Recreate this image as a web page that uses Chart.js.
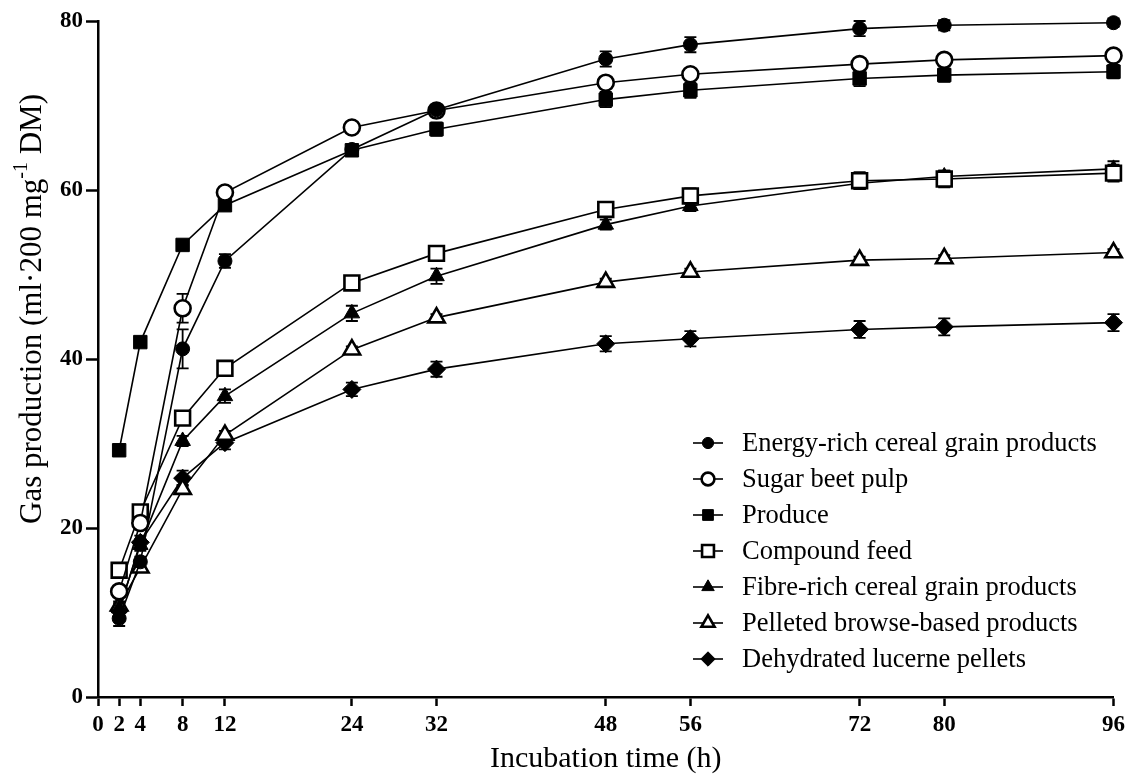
<!DOCTYPE html>
<html>
<head>
<meta charset="utf-8">
<script src="https://cdn.jsdelivr.net/npm/chart.js@4.4.4/dist/chart.umd.min.js"></script>
<style>
  html, body { margin: 0; padding: 0; background: #fff; }
  #wrap { width: 1130px; height: 783px; }
</style>
</head>
<body>
<div id="wrap"><canvas id="chart" width="1130" height="783"></canvas></div>
<script>
// incubation times (h) and tick marks on the x axis
const times = [2, 4, 8, 12, 24, 32, 48, 56, 72, 80, 96];
const xTicks = [0, 2, 4, 8, 12, 24, 32, 48, 56, 72, 80, 96];
const yTicks = [0, 20, 40, 60, 80];

// gas production, ml per 200 mg DM
const energyRich = [9.3, 16.0, 41.2, 51.6, 64.8, 69.5, 75.5, 77.2, 79.1, 79.5, 79.8];
const sugarBeet  = [12.5, 20.6, 46.0, 59.7, 67.4, 69.4, 72.7, 73.7, 74.9, 75.4, 75.9];
const produce    = [29.2, 42.0, 53.5, 58.2, 64.7, 67.2, 70.7, 71.8, 73.2, 73.6, 74.0];
const compound   = [15.0, 21.9, 33.0, 38.9, 49.0, 52.5, 57.7, 59.3, 61.1, 61.3, 62.0];
const fibreRich  = [10.5, 18.0, 30.3, 35.6, 45.4, 49.8, 55.9, 58.1, 60.8, 61.6, 62.5];
const pelleted   = [10.8, 15.3, 24.6, 31.0, 41.1, 44.9, 49.1, 50.3, 51.7, 51.9, 52.6];
const lucerne    = [10.2, 18.3, 25.9, 30.1, 36.4, 38.8, 41.8, 42.4, 43.5, 43.8, 44.3];

// standard errors
const energyErr   = [0.9, 0.6, 2.3, 0.8, 0.6, 0.6, 0.9, 0.9, 0.9, 0.6, 0.5];
const sugarErr    = [0.6, 0.8, 1.7, 0.5, 0.4, 0.5, 0.5, 0.5, 0.6, 0.5, 0.5];
const produceErr  = [0.6, 0.4, 0.4, 0.5, 0.6, 0.8, 0.9, 0.9, 0.9, 0.8, 0.8];
const compoundErr = [0.5, 0.6, 0.6, 0.7, 0.7, 0.8, 0.9, 0.9, 1.0, 1.0, 1.0];
const fibreErr    = [0.6, 0.7, 0.6, 0.8, 0.9, 0.9, 0.6, 0.6, 0.7, 0.7, 0.9];
const pelletedErr = [0.5, 0.5, 0.5, 0.5, 0.4, 0.4, 0.4, 0.4, 0.4, 0.4, 0.4];
const lucerneErr  = [0.6, 0.8, 0.9, 0.8, 0.8, 0.9, 0.9, 0.9, 1.0, 1.0, 1.0];

const seriesNames = [
  'Energy-rich cereal grain products',
  'Sugar beet pulp',
  'Produce',
  'Compound feed',
  'Fibre-rich cereal grain products',
  'Pelleted browse-based products',
  'Dehydrated lucerne pellets'
];

const SERIF = '"Liberation Serif", "Times New Roman", serif';

function makeSet(label, values, errs, style, radius, open) {
  return {
    label,
    data: times.map((t, i) => ({ x: t, y: values[i] })),
    errs,
    showLine: true,
    clip: false,
    borderColor: '#000',
    borderWidth: 1.6,
    pointStyle: style,
    pointRadius: radius,
    pointBorderColor: '#000',
    pointBackgroundColor: open ? '#fff' : '#000',
    pointBorderWidth: open ? 2.6 : 1,
    tension: 0
  };
}

// error bars drawn under the markers
const errorBars = {
  id: 'errorBars',
  beforeDatasetsDraw(chart) {
    const { ctx, scales: { x, y } } = chart;
    ctx.save();
    ctx.strokeStyle = '#000';
    ctx.lineWidth = 1.8;
    chart.data.datasets.forEach(ds => {
      ds.data.forEach((p, i) => {
        const e = ds.errs[i];
        const px = x.getPixelForValue(p.x);
        const top = y.getPixelForValue(p.y + e);
        const bot = y.getPixelForValue(p.y - e);
        ctx.beginPath();
        ctx.moveTo(px, top); ctx.lineTo(px, bot);
        ctx.moveTo(px - 6, top); ctx.lineTo(px + 6, top);
        ctx.moveTo(px - 6, bot); ctx.lineTo(px + 6, bot);
        ctx.stroke();
      });
    });
    ctx.restore();
  }
};

// legend in the lower right, line sample with marker; y title with superscript
const extras = {
  id: 'extras',
  afterDraw(chart) {
    const { ctx } = chart;
    ctx.save();
    chart.data.datasets.forEach((ds, i) => {
      const yy = 443 + i * 36;
      ctx.strokeStyle = '#000';
      ctx.lineWidth = 1.6;
      ctx.beginPath();
      ctx.moveTo(693, yy); ctx.lineTo(723, yy);
      ctx.stroke();
      ctx.fillStyle = ds.pointBackgroundColor;
      ctx.strokeStyle = '#000';
      ctx.lineWidth = ds.pointBorderWidth;
      Chart.helpers.drawPoint(ctx, {
        pointStyle: ds.pointStyle,
        radius: ds.pointRadius * 0.8,
        borderWidth: ds.pointBorderWidth
      }, 708, yy);
      ctx.fillStyle = '#000';
      ctx.font = '26.5px ' + SERIF;
      ctx.textBaseline = 'middle';
      ctx.textAlign = 'left';
      ctx.fillText(ds.label, 742, yy + 1);
    });

    // rotated y-axis title
    const partA = 'Gas production (ml·200 mg';
    const sup = '-1';
    const partB = ' DM)';
    const big = '31px ' + SERIF, small = '20px ' + SERIF;
    ctx.font = big;
    const wA = ctx.measureText(partA).width;
    const wB = ctx.measureText(partB).width;
    ctx.font = small;
    const wS = ctx.measureText(sup).width;
    const total = wA + wS + wB;
    ctx.translate(33, 309);
    ctx.rotate(-Math.PI / 2);
    ctx.textAlign = 'left';
    ctx.textBaseline = 'middle';
    ctx.fillStyle = '#000';
    let cx = -total / 2;
    ctx.font = big;
    ctx.fillText(partA, cx, 0);
    cx += wA;
    ctx.font = small;
    ctx.fillText(sup, cx, -11);
    cx += wS;
    ctx.font = big;
    ctx.fillText(partB, cx, 0);
    ctx.restore();
  }
};

const datasets = [
  makeSet(seriesNames[0], energyRich, energyErr, 'circle', 7, false),
  makeSet(seriesNames[1], sugarBeet, sugarErr, 'circle', 8, true),
  makeSet(seriesNames[2], produce, produceErr, 'rect', 9.5, false),
  makeSet(seriesNames[3], compound, compoundErr, 'rect', 10.5, true),
  makeSet(seriesNames[4], fibreRich, fibreErr, 'triangle', 9, false),
  makeSet(seriesNames[5], pelleted, pelletedErr, 'triangle', 9.5, true),
  makeSet(seriesNames[6], lucerne, lucerneErr, 'rectRot', 9, false)
];

new Chart(document.getElementById('chart'), {
  type: 'scatter',
  data: { datasets },
  plugins: [errorBars, extras],
  options: {
    responsive: false,
    animation: false,
    devicePixelRatio: 1,
    layout: { padding: { top: 21, right: 16, left: 0, bottom: 0 } },
    plugins: { legend: { display: false }, tooltip: { enabled: false } },
    scales: {
      x: {
        type: 'linear',
        min: 0, max: 96,
        afterBuildTicks: s => { s.ticks = xTicks.map(v => ({ value: v })); },
        afterFit: s => { s.height = 86; },
        grid: { drawOnChartArea: false, tickLength: 9, tickWidth: 2.5, tickColor: '#000' },
        border: { color: '#000', width: 2.5 },
        ticks: {
          color: '#000', autoSkip: false, maxRotation: 0, padding: 5,
          font: { family: SERIF, size: 23, weight: 'bold' }
        },
        title: {
          display: true, text: 'Incubation time (h)', color: '#000',
          font: { family: SERIF, size: 30 }, padding: { top: 4, bottom: 6 }
        }
      },
      y: {
        min: 0, max: 80,
        afterBuildTicks: s => { s.ticks = yTicks.map(v => ({ value: v })); },
        afterFit: s => { s.width = 98; },
        grid: { drawOnChartArea: false, tickLength: 12, tickWidth: 2.5, tickColor: '#000' },
        border: { color: '#000', width: 2.5 },
        ticks: {
          color: '#000', padding: 3,
          font: { family: SERIF, size: 23, weight: 'bold' }
        }
      }
    }
  }
});
</script>
</body>
</html>
